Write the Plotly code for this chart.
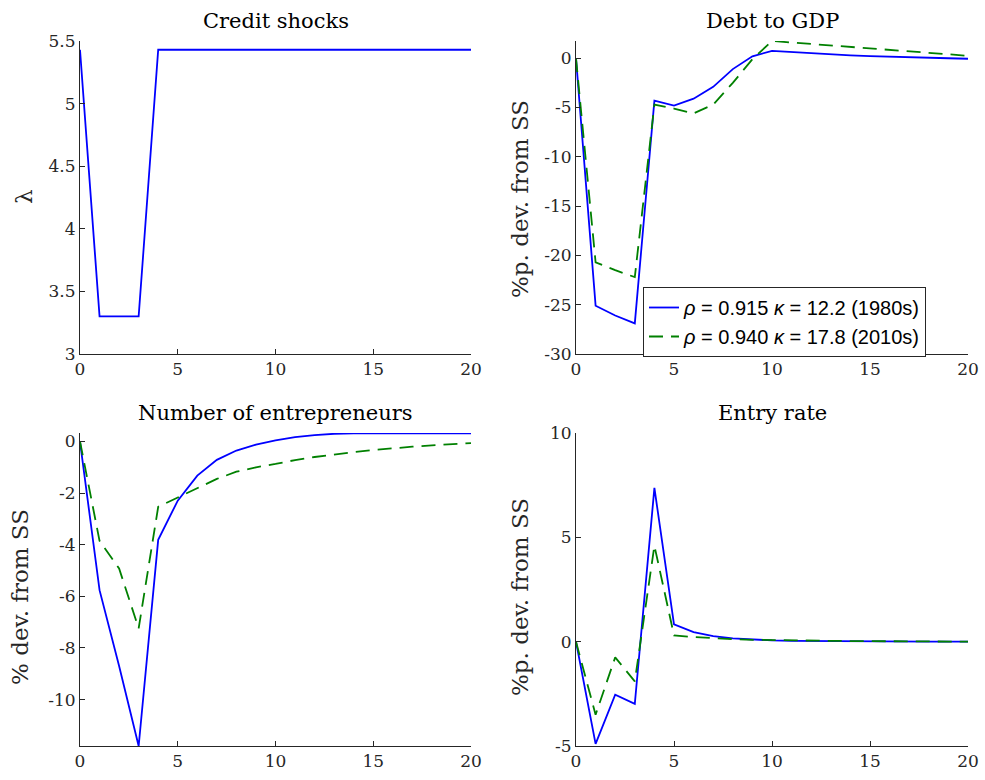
import plotly.graph_objects as go

t = list(range(21))
credit = [5.43, 3.3, 3.3, 3.3] + [5.43] * 17

debt_80 = [0, -25.1, -26.1, -26.9, -4.3, -4.8, -4.1, -2.9, -1.1, 0.2, 0.75,
           0.62, 0.5, 0.4, 0.3, 0.22, 0.15, 0.1, 0.05, 0.0, -0.05]
debt_10 = [0, -20.7, -21.5, -22.2, -4.7, -5.1, -5.6, -4.7, -2.5, -0.1, 1.75,
           1.6, 1.45, 1.3, 1.15, 1.0, 0.85, 0.7, 0.55, 0.4, 0.25]

entr_80 = [0, -5.76, -8.7, -11.8, -3.81, -2.29, -1.32, -0.71, -0.35, -0.12, 0.04,
           0.17, 0.25, 0.3, 0.32, 0.32, 0.31, 0.31, 0.32, 0.32, 0.32]
entr_10 = [0, -3.85, -4.92, -7.24, -2.53, -2.18, -1.8, -1.45, -1.17, -1.0, -0.87,
           -0.72, -0.6, -0.5, -0.41, -0.33, -0.26, -0.2, -0.15, -0.1, -0.06]

rate_80 = [0, -4.9, -2.54, -2.98, 7.37, 0.83, 0.46, 0.27, 0.16, 0.1, 0.06,
           0.04, 0.03, 0.02, 0.01, 0.01, 0, 0, 0, 0, 0]
rate_10 = [0, -3.5, -0.75, -1.9, 4.6, 0.3, 0.22, 0.16, 0.12, 0.09, 0.07,
           0.06, 0.05, 0.04, 0.03, 0.02, 0.02, 0.01, 0.01, 0.01, 0.0]

titles = ["Credit shocks", "Debt to GDP", "Number of entrepreneurs", "Entry rate"]
ylabels = ["λ", "%p. dev. from SS", "% dev. from SS", "%p. dev. from SS"]
name_80 = "<i>ρ</i> = 0.915 <i>κ</i> = 12.2 (1980s)"
name_10 = "<i>ρ</i> = 0.940 <i>κ</i> = 17.8 (2010s)"

BLUE = "rgb(0,0,255)"
GREEN = "rgb(0,128,0)"
W, H = 985, 780
SERIF = "DejaVu Serif"
AX = "#262626"

fig = go.Figure()

def add(x, y, ax, color, dash, name=None, show=False):
    fig.add_trace(go.Scatter(x=x, y=y, mode="lines", xaxis="x" + ax, yaxis="y" + ax,
                             line=dict(color=color, width=1.8, dash=dash),
                             name=name, showlegend=show))

add(t, credit, "", BLUE, "solid")
add(t, debt_80, "2", BLUE, "solid", name_80, True)
add(t, debt_10, "2", GREEN, "14px,8px", name_10, True)
add(t, entr_80, "3", BLUE, "solid")
add(t, entr_10, "3", GREEN, "14px,8px")
add(t, rate_80, "4", BLUE, "solid")
add(t, rate_10, "4", GREEN, "14px,8px")

# pixel boxes: (left, right, top, bottom)
boxes = [(80, 471, 41, 354), (576, 968, 41, 354), (80, 471, 433, 746), (576, 968, 433, 746)]
yranges = [[3, 5.5], [-30, 1.75], [-11.8, 0.33], [-5, 10]]
yticks = [[3, 3.5, 4, 4.5, 5, 5.5], list(range(-30, 1, 5)), list(range(-10, 1, 2)), [-5, 0, 5, 10]]
label_pos = [(24, 197), (520, 199), (20, 597), (520, 597)]

def fmt(v):
    return "%g" % v

layout = dict(width=W, height=H, margin=dict(l=0, r=0, t=0, b=0, autoexpand=False),
              paper_bgcolor="white", plot_bgcolor="white",
              font=dict(family=SERIF, size=17, color=AX))
annotations = []
for i, (l, r, tp, b) in enumerate(boxes):
    sfx = "" if i == 0 else str(i + 1)
    xd = [l / W, r / W]
    yd = [1 - b / H, 1 - tp / H]
    common = dict(showline=True, linecolor=AX, linewidth=1, ticks="inside", ticklen=5,
                  tickcolor=AX, showgrid=False, zeroline=False, automargin=False,
                  tickfont=dict(family=SERIF, size=17, color=AX))
    layout["xaxis" + sfx] = dict(domain=xd, range=[0, 20], anchor="y" + sfx,
                                 tickvals=[0, 5, 10, 15, 20], ticktext=["0", "5", "10", "15", "20"],
                                 **common)
    layout["yaxis" + sfx] = dict(domain=yd, range=yranges[i], anchor="x" + sfx,
                                 tickvals=yticks[i], ticktext=[fmt(v) for v in yticks[i]],
                                 **common)
    annotations.append(dict(text=titles[i], x=(l + r) / 2 / W, y=1 - (tp - 20) / H,
                            xref="paper", yref="paper", showarrow=False,
                            xanchor="center", yanchor="middle",
                            font=dict(family=SERIF, size=21, color="black")))
    lx, ly = label_pos[i]
    annotations.append(dict(text=ylabels[i], x=lx / W, y=1 - ly / H,
                            xref="paper", yref="paper", showarrow=False, textangle=-90,
                            xanchor="center", yanchor="middle",
                            font=dict(family=SERIF, size=23, color=AX)))

layout["annotations"] = annotations
layout["legend"] = dict(x=643 / W, y=1 - 287 / H, xanchor="left", yanchor="top",
                        bgcolor="white", bordercolor=AX, borderwidth=1,
                        font=dict(family="Liberation Sans", size=20, color="black"),
                        tracegroupgap=0, entrywidth=300, entrywidthmode="pixels")
fig.update_layout(**layout)
fig.write_html("out.html")
